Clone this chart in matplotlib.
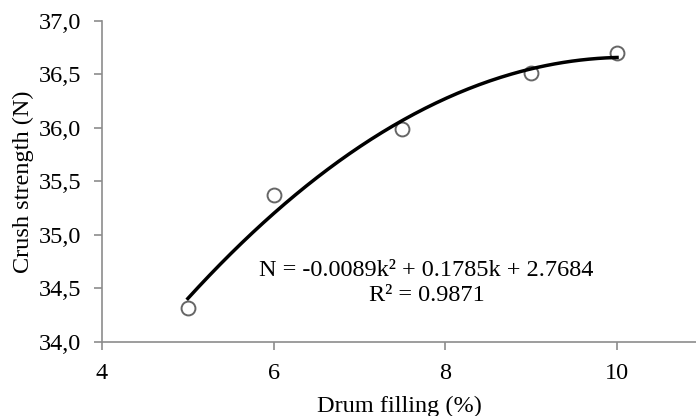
import numpy as np
import matplotlib
matplotlib.use("Agg")
import matplotlib.pyplot as plt

# ── Data ──────────────────────────────────────────────────────────────────────
drum_filling = [5.0, 6.0, 7.5, 9.0, 10.0]
crush_strength = [34.32, 35.37, 35.99, 36.51, 36.70]

x_ticks = [4, 6, 8, 10]
y_ticks = [34.0, 34.5, 35.0, 35.5, 36.0, 36.5, 37.0]
y_tick_labels = ["34,0", "34,5", "35,0", "35,5", "36,0", "36,5", "37,0"]

equation_text = "N = -0.0089k\u00b2 + 0.1785k + 2.7684\nR\u00b2 = 0.9871"

plt.rcParams["font.family"] = ["Liberation Serif", "DejaVu Serif"]

AXIS_GREY = "#8c8c8c"
FS = 17.5

fig = plt.figure(figsize=(6.96, 4.16), dpi=100)
ax = fig.add_axes([0.1466, 0.178, 0.8534, 0.7715])

# quadratic trendline (polynomial fit of the points, as in the original)
coef = np.polyfit(drum_filling, crush_strength, 2)
xs = np.linspace(min(drum_filling), max(drum_filling), 200)
ax.plot(xs, np.polyval(coef, xs), color="black", lw=2.5, zorder=3)

ax.plot(drum_filling, crush_strength, ls="none", marker="o", ms=10,
        mfc="white", mec="#666666", mew=1.4, zorder=2)

ax.set_xlim(4, 10.92)
ax.set_ylim(34.0, 37.0)
ax.set_xticks(x_ticks)
ax.set_yticks(y_ticks)
ax.set_yticklabels(y_tick_labels)

for side in ("top", "right"):
    ax.spines[side].set_visible(False)
for side in ("left", "bottom"):
    ax.spines[side].set_color(AXIS_GREY)
    ax.spines[side].set_linewidth(1.2)
ax.tick_params(direction="out", length=6, width=1.2, color=AXIS_GREY,
               labelsize=FS)
ax.tick_params(axis="y", pad=9)
ax.tick_params(axis="x", pad=9)

ax.set_xlabel("Drum filling (%)", fontsize=FS, labelpad=9)
ax.set_ylabel("Crush strength (N)", fontsize=FS, labelpad=3)

ax.text(7.78, 34.55, equation_text, fontsize=FS, ha="center", va="center",
        linespacing=1.25)

fig.savefig("out.png", dpi=100)
